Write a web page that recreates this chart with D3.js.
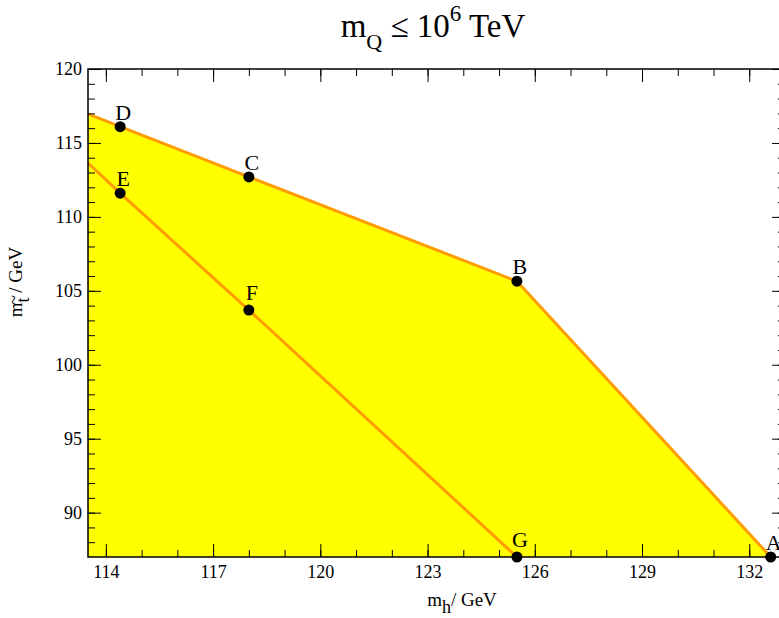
<!DOCTYPE html>
<html>
<head>
<meta charset="utf-8">
<script src="https://cdn.jsdelivr.net/npm/d3@7"></script>
<style>
  body { margin: 0; background: #fff; }
  text { font-family: "Liberation Serif", "DejaVu Serif", serif; fill: #000; }
</style>
</head>
<body>
<script>
// benchmark points
var pointNames = ["A", "B", "C", "D", "E", "F", "G"];
var pointMh    = [132.6, 125.5, 118.0, 114.4, 114.4, 118.0, 125.5];
var pointMst   = [87.0, 105.65, 112.7, 116.1, 111.6, 103.7, 87.0];

// the two boundary lines (start at left frame edge)
var upperMh  = [113.5, 114.4, 118.0, 125.5, 132.6];
var upperMst = [116.96, 116.1, 112.7, 105.65, 87.0];
var lowerMh  = [113.5, 114.4, 118.0, 125.5];
var lowerMst = [113.64, 111.6, 103.7, 87.0];

var xTicks = [114, 117, 120, 123, 126, 129, 132];
var yTicks = [90, 95, 100, 105, 110, 115, 120];

var width = 779, height = 618;
var pLeft = 88, pRight = 785, pTop = 69, pBottom = 557;

var svg = d3.select("body").append("svg")
    .attr("width", width)
    .attr("height", height)
    .style("overflow", "hidden");

var x = d3.scaleLinear().domain([113.5, 133]).range([pLeft, pRight]);
var y = d3.scaleLinear().domain([87, 120]).range([pBottom, pTop]);

svg.append("clipPath").attr("id", "plotclip")
  .append("rect")
    .attr("x", pLeft).attr("y", pTop)
    .attr("width", pRight - pLeft).attr("height", pBottom - pTop);

var plot = svg.append("g").attr("clip-path", "url(#plotclip)");

var line = d3.line()
    .x(function(d) { return x(d[0]); })
    .y(function(d) { return y(d[1]); });

// yellow allowed region: under the upper line
var region = upperMh.map(function(d, i) { return [d, upperMst[i]]; });
region.push([113.5, 87]);
plot.append("path")
    .attr("d", line(region) + "Z")
    .attr("fill", "#ffff00");

[[upperMh, upperMst], [lowerMh, lowerMst]].forEach(function(s) {
  plot.append("path")
      .attr("d", line(s[0].map(function(d, i) { return [d, s[1][i]]; })))
      .attr("fill", "none")
      .attr("stroke", "#ff9c00")
      .attr("stroke-width", 3);
});

// axes, ticks pointing inward
var minorX = d3.range(114, 134, 1), minorY = d3.range(88, 121, 1);

function addAxis(axis, tx, ty, labels) {
  var g = svg.append("g").attr("transform", "translate(" + tx + "," + ty + ")").call(axis);
  g.select(".domain").remove();
  g.selectAll("line").attr("stroke", "#000");
  if (!labels) g.selectAll("text").remove();
  return g;
}

addAxis(d3.axisBottom(x).tickValues(minorX).tickSize(-7).tickFormat(""), 0, pBottom, false);
addAxis(d3.axisTop(x).tickValues(minorX).tickSize(-7).tickFormat(""), 0, pTop, false);
addAxis(d3.axisLeft(y).tickValues(minorY).tickSize(-7).tickFormat(""), pLeft, 0, false);
addAxis(d3.axisRight(y).tickValues(minorY).tickSize(-7).tickFormat(""), pRight, 0, false);

var xb = addAxis(d3.axisBottom(x).tickValues(xTicks).tickSize(-13).tickPadding(8), 0, pBottom, true);
addAxis(d3.axisTop(x).tickValues(xTicks).tickSize(-13), 0, pTop, false);
var yl = addAxis(d3.axisLeft(y).tickValues(yTicks).tickSize(-13).tickPadding(6), pLeft, 0, true);
addAxis(d3.axisRight(y).tickValues(yTicks).tickSize(-13), pRight, 0, false);

xb.selectAll("text").style("font-size", "18px").style("font-family", "Liberation Serif");
yl.selectAll("text").style("font-size", "18px").style("font-family", "Liberation Serif");

svg.append("rect")
    .attr("x", pLeft).attr("y", pTop)
    .attr("width", pRight - pLeft).attr("height", pBottom - pTop)
    .attr("fill", "none")
    .attr("stroke", "#000")
    .attr("stroke-width", 1.5);

// points + letters (letters a little above-right of the dot)
var labelDy = { F: -10, G: -10 };
var pts = svg.append("g");
pointNames.forEach(function(n, i) {
  pts.append("circle")
      .attr("cx", x(pointMh[i])).attr("cy", y(pointMst[i]))
      .attr("r", 5.5).attr("fill", "#000");
  pts.append("text")
      .attr("x", x(pointMh[i]) + 3).attr("y", y(pointMst[i]) + (labelDy[n] || -7))
      .attr("text-anchor", "middle")
      .style("font-size", "22px")
      .text(n);
});

// title
var title = svg.append("text")
    .attr("x", 433).attr("y", 37)
    .attr("text-anchor", "middle")
    .style("font-size", "33px");
title.append("tspan").text("m");
title.append("tspan").attr("dy", 12).style("font-size", "22px").text("Q");
title.append("tspan").attr("dy", -12).text(" \u2264 10");
title.append("tspan").attr("dy", -16).style("font-size", "23px").text("6");
title.append("tspan").attr("dy", 16).text(" TeV");

// x axis title
var xt = svg.append("text")
    .attr("x", 462).attr("y", 606)
    .attr("text-anchor", "middle")
    .style("font-size", "19px");
xt.append("tspan").text("m");
xt.append("tspan").attr("dy", 7).style("font-size", "18px").text("h");
xt.append("tspan").attr("dy", -7).text("/ GeV");

// y axis title, with a tilde over the t
var ytg = svg.append("g").attr("transform", "translate(22,282) rotate(-90)");
var yt = ytg.append("text")
    .attr("text-anchor", "middle")
    .style("font-size", "19px");
yt.append("tspan").text("m");
yt.append("tspan").attr("dy", 7).style("font-size", "18px").text("t");
yt.append("tspan").attr("dy", -7).text(" / GeV");
var tBox = yt.node().getExtentOfChar(1);
ytg.append("text")
    .attr("x", tBox.x + tBox.width / 2)
    .attr("y", tBox.y + 7)
    .attr("text-anchor", "middle")
    .style("font-size", "18px")
    .text("~");
</script>
</body>
</html>
